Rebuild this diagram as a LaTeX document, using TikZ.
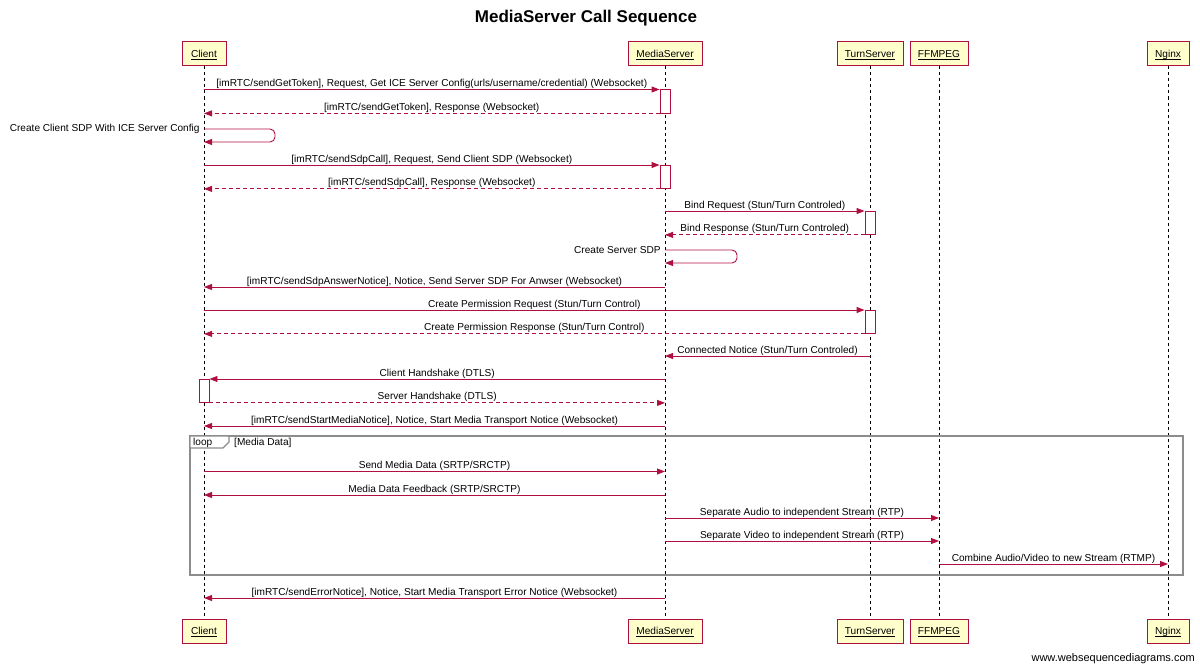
\documentclass[tikz,border=0pt]{standalone}
\usepackage{fontspec}
\setmainfont{Liberation Sans}
\usetikzlibrary{arrows.meta,calc}
\definecolor{wsd}{RGB}{176,16,64}
\definecolor{boxfill}{RGB}{255,255,204}
\definecolor{loopgray}{RGB}{140,140,140}
\newcommand\ul[1]{\underline{\smash{#1}}}
\begin{document}
\begin{tikzpicture}[x=1pt,y=-1pt,
  txt/.style={font=\fontsize{10.1}{12}\selectfont},
  part/.style={txt, draw=wsd, line width=1pt, fill=boxfill, minimum height=24pt, inner sep=0pt, text height=7.3pt, text depth=0pt},
  life/.style={draw=black, dash pattern=on 3pt off 3pt, line width=0.8pt},
  msg/.style={draw=wsd, line width=0.9pt, -{Triangle[length=8pt,width=6pt]}},
  ret/.style={msg, dash pattern=on 4pt off 3pt},
  act/.style={draw=wsd, line width=0.9pt, fill=white, minimum width=10pt, minimum height=23pt, inner sep=0pt, anchor=north},
  lbl/.style={txt, midway, anchor=base, yshift=3pt, inner sep=0pt},
  slbl/.style={txt, anchor=east, inner sep=0pt, xshift=-4pt},
  loopbox/.style={draw=loopgray, line width=1.3pt},
]
\useasboundingbox (0,0) rectangle (1200,669);
% title
\node[font=\bfseries\fontsize{17}{20}\selectfont] (title) at (586,18) {MediaServer Call Sequence};
% participants
\node[part, minimum width=44pt] (cT) at (204,54) {\ul{Client}};
\node[part, minimum width=74pt] (mT) at (665,54) {\ul{MediaServer}};
\node[part, minimum width=66pt] (tT) at (870,54) {\ul{TurnServer}};
\node[part, minimum width=58pt] (fT) at (939,54) {\ul{FFMPEG}};
\node[part, minimum width=42pt] (nT) at (1168,54) {\ul{Nginx}};
\node[part, minimum width=44pt] (cB) at (204,631) {\ul{Client}};
\node[part, minimum width=74pt] (mB) at (665,631) {\ul{MediaServer}};
\node[part, minimum width=66pt] (tB) at (870,631) {\ul{TurnServer}};
\node[part, minimum width=58pt] (fB) at (939,631) {\ul{FFMPEG}};
\node[part, minimum width=42pt] (nB) at (1168,631) {\ul{Nginx}};
% lifelines
\draw[life] (cT) -- (cB);
\draw[life] (mT) -- (mB);
\draw[life] (tT) -- (tB);
\draw[life] (fT) -- (fB);
\draw[life] (nT) -- (nB);
% loop frame
\draw[loopbox] (190,436) rectangle (1183,575);
\draw[loopbox, fill=white] (190,436) -- (229,436) -- (229,442) -- (223,448) -- (190,448) -- cycle;
\node[txt, anchor=base west, inner sep=0pt] (looplbl) at (193,445.5) {loop};
\node[txt, anchor=base west, inner sep=0pt] (loopcond) at (234,445.5) {[Media Data]};
% activations
\node[act] (a1) at (665,89.5) {};
\node[act] (a2) at (665,165) {};
\node[act] (a3) at (870,211) {};
\node[act] (a4) at (870,310) {};
\node[act] (a5) at (204,379) {};
% messages
\draw[msg] (cT |- 0,89.5) -- node[lbl]{[imRTC/sendGetToken], Request, Get ICE Server Config(urls/username/credential) (Websocket)} (a1.north west);
\draw[ret] (a1.south west) -- node[lbl]{[imRTC/sendGetToken], Response (Websocket)} (cT |- a1.south);
\draw[msg, rounded corners=5pt] (cT |- 0,129) node[slbl]{Create Client SDP With ICE Server Config} -- (275,129) -- (275,142) -- (cT |- 0,142);
\draw[msg] (cT |- 0,165) -- node[lbl]{[imRTC/sendSdpCall], Request, Send Client SDP (Websocket)} (a2.north west);
\draw[ret] (a2.south west) -- node[lbl]{[imRTC/sendSdpCall], Response (Websocket)} (cT |- a2.south);
\draw[msg] (mT |- 0,211) -- node[lbl]{Bind Request (Stun/Turn Controled)} (a3.north west);
\draw[ret] (a3.south west) -- node[lbl]{Bind Response (Stun/Turn Controled)} (mT |- a3.south);
\draw[msg, rounded corners=5pt] (mT |- 0,250) node[slbl]{Create Server SDP} -- (737,250) -- (737,263) -- (mT |- 0,263);
\draw[msg] (mT |- 0,287) -- node[lbl]{[imRTC/sendSdpAnswerNotice], Notice, Send Server SDP For Anwser (Websocket)} (cT |- 0,287);
\draw[msg] (cT |- 0,310) -- node[lbl]{Create Permission Request (Stun/Turn Control)} (a4.north west);
\draw[ret] (a4.south west) -- node[lbl]{Create Permission Response (Stun/Turn Control)} (cT |- a4.south);
\draw[msg] (tT |- 0,356) -- node[lbl]{Connected Notice (Stun/Turn Controled)} (mT |- 0,356);
\draw[msg] (mT |- 0,379) -- node[lbl]{Client Handshake (DTLS)} (a5.north east);
\draw[ret] (a5.south east) -- node[lbl]{Server Handshake (DTLS)} (mT |- a5.south);
\draw[msg] (mT |- 0,426) -- node[lbl]{[imRTC/sendStartMediaNotice], Notice, Start Media Transport Notice (Websocket)} (cT |- 0,426);
\draw[msg] (cT |- 0,471.5) -- node[lbl]{Send Media Data (SRTP/SRCTP)} (mT |- 0,471.5);
\draw[msg] (mT |- 0,495) -- node[lbl]{Media Data Feedback (SRTP/SRCTP)} (cT |- 0,495);
\draw[msg] (mT |- 0,518) -- node[lbl]{Separate Audio to independent Stream (RTP)} (fT |- 0,518);
\draw[msg] (mT |- 0,541) -- node[lbl]{Separate Video to independent Stream (RTP)} (fT |- 0,541);
\draw[msg] (fT |- 0,564) -- node[lbl]{Combine Audio/Video to new Stream (RTMP)} (nT |- 0,564);
\draw[msg] (mT |- 0,598) -- node[lbl]{[imRTC/sendErrorNotice], Notice, Start Media Transport Error Notice (Websocket)} (cT |- 0,598);
% watermark
\node[font=\fontsize{11}{13}\selectfont, anchor=base east, inner sep=0pt] (wm) at (1195,661) {www.websequencediagrams.com};
\end{tikzpicture}
\end{document}
